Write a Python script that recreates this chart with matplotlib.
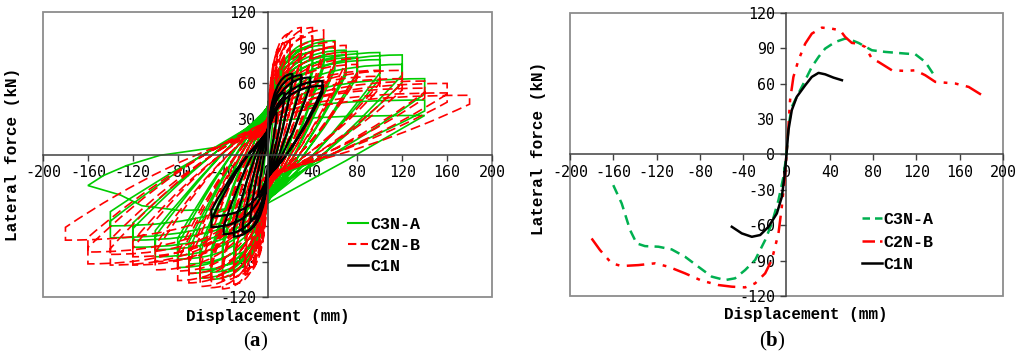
import numpy as np
import matplotlib
matplotlib.use("Agg")
import matplotlib.pyplot as plt
from matplotlib.path import Path
from matplotlib.patches import PathPatch, Rectangle
from matplotlib.lines import Line2D

plt.rcParams['font.family'] = ['Liberation Mono', 'DejaVu Sans']
plt.rcParams['axes.unicode_minus'] = False
plt.rcParams['mathtext.fontset'] = 'custom'
plt.rcParams['mathtext.rm'] = 'Liberation Serif'
plt.rcParams['mathtext.bf'] = 'Liberation Serif:bold'

# ---- (a) hysteresis cycles: peak displacement / force per cycle ----
c3n_dp = [5, 10, 20, 20, 30, 30, 40, 40, 50, 50, 60, 60, 70, 70, 80, 80, 100, 100, 120, 120, 140, 140]
c3n_fp = [40, 52, 70, 65, 83, 78, 91, 86, 97, 92, 96, 90, 88, 84, 87, 82, 86, 80, 84, 76, 64, 46]
c3n_dn = [-5, -10, -20, -20, -30, -30, -40, -40, -50, -50, -60, -60, -70, -70, -80, -80, -100, -100, -120, -120, -140, -140]
c3n_fn = [-35, -50, -72, -66, -90, -84, -99, -93, -105, -99, -104, -97, -100, -92, -95, -88, -86, -80, -78, -72, -70, -60]
# last excursion of C3N-A
c3n_tail_d = [140, 70, 0, -40, -78, -112, -131, -160, -146, -125, -96, -47]
c3n_tail_f = [33, -5, -41, -46, -47, -43, -34, -26, -17.5, -9, -0.6, 6]

c2n_dp = [10, 15, 20, 20, 30, 30, 40, 40, 50, 50, 60, 60, 70, 70, 80, 80, 100, 100, 120, 120, 140, 140, 160, 160, 180]
c2n_fp = [80, 94, 102, 96, 107, 100, 107, 100, 105, 97, 95, 90, 92, 86, 81, 76, 71, 66, 71, 64, 62, 56, 60, 52, 50]
c2n_dn = [-10, -15, -20, -20, -30, -30, -40, -40, -50, -50, -60, -60, -70, -70, -80, -80, -100, -100, -120, -120, -140, -140, -160, -160, -180]
c2n_fn = [-85, -95, -101, -96, -109, -103, -113, -106, -112, -105, -111, -104, -108, -100, -106, -98, -97, -90, -93, -86, -93, -84, -92, -82, -72]

c1n_dp = [8, 15, 22, 30, 38, 49, 49]
c1n_fp = [35, 52, 68, 67, 65, 62, 58]
c1n_dn = [-8, -15, -22, -30, -39, -50, -50]
c1n_fn = [-35, -55, -65, -69, -67, -61, -52]

# ---- (b) envelope curves ----
env3_d = [-160, -152.2, -144.5, -138.4, -130.7, -118.3, -106, -93.7, -81.4, -69, -56.7, -47.5, -38.2,
          -29, -19.7, -13.6, -7.4, -2.8, 0, 1.8, 4.9, 11, 17.3, 23.4, 29.6, 35.7, 45, 54.2, 60.4,
          66.6, 78.9, 91.2, 109.7, 119, 128.2, 137.4]
env3_f = [-26, -41.5, -64, -75.4, -77.7, -78.2, -80.5, -86.7, -95.2, -103.6, -106.5, -105, -98,
          -89.5, -72.6, -58.5, -38.7, -18.9, 0, 23.4, 40.4, 51.7, 63, 74.3, 82.7, 89.8, 95.4, 98.3, 96.9,
          94.6, 88.4, 87, 85.6, 85, 78.5, 65.8]
env2_d = [-180, -172.3, -161.5, -152.2, -136.8, -121.4, -109, -93.7, -78.3, -62.9, -50.5, -38.2, -29,
          -19.7, -13.6, -7.4, -4.3, -1.8, 0, 1.8, 3.3, 6.4, 11, 17.3, 23.4, 32.7, 41.9, 49.6, 54.2,
          60.4, 66.6, 72.7, 78.9, 85, 97.4, 109.7, 119, 128.2, 137.4, 155.9, 168.3, 180.6]
env2_f = [-71.2, -81, -92.3, -94.6, -93.8, -92.3, -95.2, -100.8, -107, -110.7, -112.1, -112.7, -109.3,
          -100.8, -89.5, -66.9, -44.3, -21.7, 0, 23.4, 46, 65.8, 79.9, 94, 102.5, 107.6, 106.7, 105.3, 99.7,
          94.6, 94, 91.2, 81.3, 78.5, 71.4, 70.9, 71.4, 67.2, 61.6, 60.2, 57.3, 50.3]
env1_d = [-50.5, -41.3, -32, -24.3, -16.6, -8.9, -4.3, -1.5, 0, 1.8, 4.9, 9.5, 17.3, 23.4, 29.6, 35.7, 43.4, 51.2]
env1_f = [-61.3, -66.9, -69.8, -68.3, -61.3, -50, -35.9, -16.1, 0, 20.6, 37.6, 48.9, 58.7, 65.8, 69.2, 68, 65.2, 63]

labels = ['C3N-A', 'C2N-B', 'C1N']
green_a = '#00cc00'
green_b = '#00b050'
red = '#ff0000'
dashdot2 = (0, (7, 3, 1.5, 3, 1.5, 3))


def loop_path(dp, fp, dn, fn, drop, pinch, zmax, tail_d=None, tail_f=None):
    verts = [(0, 0)]
    codes = [Path.MOVETO]
    for a, b, c, d in zip(dp, fp, dn, fn):
        zp = -min(pinch * b, zmax)
        zn = min(pinch * -d, zmax)
        verts += [(0.2 * a, b), (a, b), (a, b * drop),
                  (0.5 * a, 0.05 * b), (0, zp),
                  (0.2 * c, d), (c, d), (c, d * drop),
                  (0.5 * c, 0.05 * d), (0, zn)]
        codes += [Path.CURVE3, Path.CURVE3, Path.LINETO,
                  Path.CURVE3, Path.CURVE3,
                  Path.CURVE3, Path.CURVE3, Path.LINETO,
                  Path.CURVE3, Path.CURVE3]
    if tail_d is not None:
        verts += [(0.2 * tail_d[0], tail_f[0]), (tail_d[0], tail_f[0])]
        codes += [Path.CURVE3, Path.CURVE3]
        for x, y in zip(tail_d[1:], tail_f[1:]):
            verts.append((x, y))
            codes.append(Path.LINETO)
    return Path(verts, codes)


def style_axes(ax):
    ax.set_xlim(-200, 200)
    ax.set_ylim(-120, 120)
    ax.set_xticks(np.arange(-200, 201, 40))
    ax.set_yticks(np.arange(-120, 121, 30))
    for s in ['top', 'right']:
        ax.spines[s].set_visible(False)
    ax.spines['left'].set_position(('data', 0))
    ax.spines['bottom'].set_position(('data', 0))
    ax.spines['left'].set_color('#404040')
    ax.spines['bottom'].set_color('#404040')
    ax.spines['left'].set_linewidth(1.1)
    ax.spines['bottom'].set_linewidth(1.1)
    ax.add_patch(Rectangle((0, 0), 1, 1, transform=ax.transAxes, fill=False,
                           ec='#8c8c8c', lw=1.3, clip_on=False, zorder=0.5))
    ax.tick_params(axis='both', direction='out', length=4, width=1, color='#404040',
                   labelsize=10.8)
    ax.tick_params(axis='x', pad=3.5)
    ax.tick_params(axis='y', pad=4)
    for t in ax.get_xticklabels() + ax.get_yticklabels():
        t.set_family('DejaVu Sans Mono')
    ax.patch.set_visible(False)


fig = plt.figure(figsize=(10.24, 3.58), dpi=100)
ax1 = fig.add_axes([0.042, 0.170, 0.4385, 0.796])
ax2 = fig.add_axes([0.5566, 0.1732, 0.4229, 0.7905])

# (a)
style_axes(ax1)
ax1.add_patch(PathPatch(loop_path(c3n_dp, c3n_fp, c3n_dn, c3n_fn, 0.8, 0.45, 40, c3n_tail_d, c3n_tail_f),
                        fill=False, ec=green_a, lw=1.2, zorder=2))
ax1.add_patch(PathPatch(loop_path(c2n_dp, c2n_fp, c2n_dn, c2n_fn, 0.85, 0.3, 30),
                        fill=False, ec=red, lw=1.2, ls=(0, (6, 3)), zorder=2.1))
ax1.add_patch(PathPatch(loop_path(c1n_dp, c1n_fp, c1n_dn, c1n_fn, 0.9, 0.3, 20),
                        fill=False, ec='black', lw=1.6, zorder=2.2))
h1 = [Line2D([], [], color=green_a, lw=1.5),
      Line2D([], [], color=red, lw=1.5, ls=(0, (4, 2))),
      Line2D([], [], color='black', lw=1.8)]
ax1.legend(h1, labels, loc='center left', bbox_to_anchor=(0.68, 0.182), frameon=False,
           prop={'family': 'Liberation Mono', 'weight': 'bold', 'size': 12},
           handlelength=1.2, handletextpad=0.1, labelspacing=0.35, borderpad=0, borderaxespad=0)
ax1.set_xlabel('Displacement (mm)', fontsize=11.5, fontweight='bold', labelpad=0)
ax1.xaxis.set_label_coords(0.5, -0.04)
ax1.set_ylabel('Lateral force (kN)', fontsize=11.5, fontweight='bold')
ax1.yaxis.set_label_coords(-0.052, 0.5)

# (b)
style_axes(ax2)
ax2.plot(env3_d, env3_f, color=green_b, lw=1.8, ls=(0, (4, 2.5)), zorder=3)
ax2.plot(env2_d, env2_f, color=red, lw=1.8, ls=dashdot2, zorder=3)
ax2.plot(env1_d, env1_f, color='black', lw=1.8, zorder=3)
h2 = [Line2D([], [], color=green_b, lw=1.8, ls=(0, (3, 2))),
      Line2D([], [], color=red, lw=1.8, ls=(0, (5, 2, 1, 2))),
      Line2D([], [], color='black', lw=1.8)]
ax2.legend(h2, labels, loc='center left', bbox_to_anchor=(0.674, 0.19), frameon=False,
           prop={'family': 'Liberation Mono', 'weight': 'bold', 'size': 12},
           handlelength=1.2, handletextpad=0.1, labelspacing=0.45, borderpad=0, borderaxespad=0)
ax2.set_xlabel('Displacement (mm)', fontsize=11.5, fontweight='bold', labelpad=0)
ax2.xaxis.set_label_coords(0.545, -0.04)
ax2.set_ylabel('Lateral force (kN)', fontsize=11.5, fontweight='bold')
ax2.yaxis.set_label_coords(-0.055, 0.52)

fig.text(0.25, 0.045, r'($\mathbf{a}$)', fontsize=15, ha='center', va='center', family='Liberation Serif')
fig.text(0.754, 0.045, r'($\mathbf{b}$)', fontsize=15, ha='center', va='center', family='Liberation Serif')

fig.savefig('out.png', dpi=100)
